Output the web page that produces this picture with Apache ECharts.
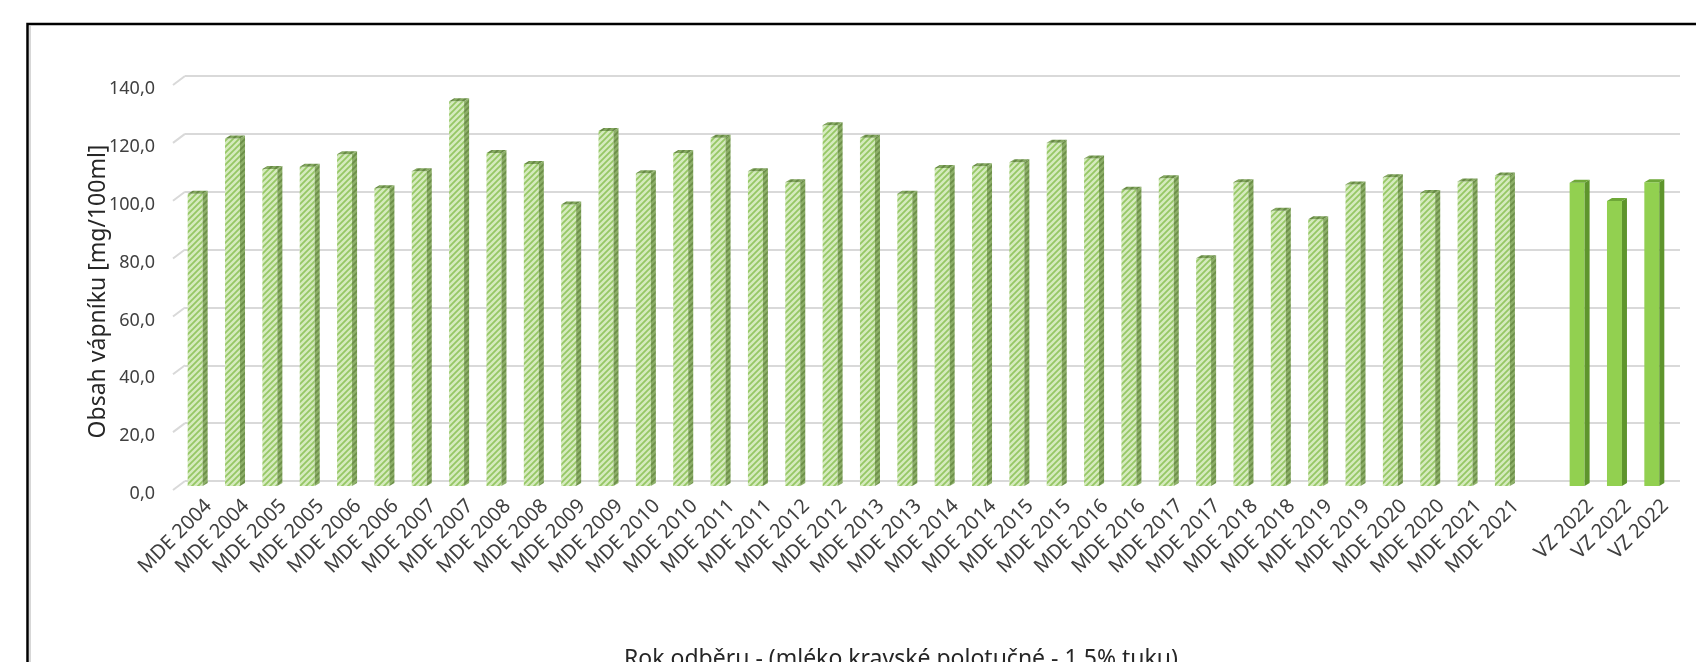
<!DOCTYPE html>
<html>
<head>
<meta charset="utf-8">
<title>Obsah vápníku</title>
<script src="https://cdn.jsdelivr.net/npm/echarts@6/dist/echarts.min.js"></script>
<style>
  html, body { margin: 0; padding: 0; background: #fff; }
  #chart { width: 1696px; height: 662px; }
</style>
</head>
<body>
<div id="chart"></div>
<script>
// kategorie osy x, prázdná položka dělá mezeru před VZ 2022
const categories = [
  'MDE 2004', 'MDE 2004', 'MDE 2005', 'MDE 2005', 'MDE 2006', 'MDE 2006',
  'MDE 2007', 'MDE 2007', 'MDE 2008', 'MDE 2008', 'MDE 2009', 'MDE 2009',
  'MDE 2010', 'MDE 2010', 'MDE 2011', 'MDE 2011', 'MDE 2012', 'MDE 2012',
  'MDE 2013', 'MDE 2013', 'MDE 2014', 'MDE 2014', 'MDE 2015', 'MDE 2015',
  'MDE 2016', 'MDE 2016', 'MDE 2017', 'MDE 2017', 'MDE 2018', 'MDE 2018',
  'MDE 2019', 'MDE 2019', 'MDE 2020', 'MDE 2020', 'MDE 2021', 'MDE 2021',
  '', 'VZ 2022', 'VZ 2022', 'VZ 2022'
]

// obsah vápníku [mg/100ml]
const mdeValues = [
  100.3, 119.4, 108.9, 109.7, 114.0, 102.2,
  108.1, 132.3, 114.4, 110.6, 96.6, 122.0,
  107.4, 114.4, 119.7, 108.1, 104.3, 124.0,
  119.7, 100.3, 109.2, 109.8, 111.2, 118.0,
  112.5, 101.7, 105.7, 78.0, 104.3, 94.5,
  91.5, 103.5, 106.0, 100.6, 104.6, 106.6
]
const vzValues = [104.1, 97.8, 104.3]

// osa y
const yMin = 0
const yMax = 140
const yStep = 20
const yTicks = [0, 20, 40, 60, 80, 100, 120, 140]

// šrafovaná výplň jako u sloupců MDE
const makeHatch = (bg, fg) => {
  const c = document.createElement('canvas')
  c.width = c.height = 6
  const g = c.getContext('2d')
  g.fillStyle = bg
  g.fillRect(0, 0, 6, 6)
  g.strokeStyle = fg
  g.lineWidth = 1.8
  g.beginPath()
  g.moveTo(-1, 7); g.lineTo(7, -1)
  g.moveTo(-1, 1); g.lineTo(1, -1)
  g.moveTo(5, 7); g.lineTo(7, 5)
  g.stroke()
  return { image: c, repeat: 'repeat' }
}

const looks = [
  {
    front: makeHatch('#d5ebbe', '#96c765'),
    side: makeHatch('#8daf69', '#6c8f48'),
    top: makeHatch('#86a962', '#658843'),
  },
  { front: '#92d050', side: '#5e952c', top: '#6ea838' },
]

const barData = []
mdeValues.forEach((v, i) => barData.push([i, v, 0]))
vzValues.forEach((v, i) => barData.push([mdeValues.length + 1 + i, v, 1]))

const renderBar = (params, api) => {
  const top = api.coord([api.value(0), api.value(1)])
  const base = api.coord([api.value(0), 0])
  const band = api.size([1, 0])[0]
  const fw = band * 0.4
  const sw = band * 0.135
  const d = 3
  const left = top[0] - (fw + sw) / 2
  const yTop = top[1] + d
  const yBot = base[1] + 5
  const look = looks[api.value(2)]
  return {
    type: 'group',
    children: [
      { type: 'rect', shape: { x: left, y: yTop, width: fw, height: yBot - yTop }, style: { fill: look.front } },
      {
        type: 'polygon',
        shape: { points: [[left + fw, yTop], [left + fw + sw, top[1]], [left + fw + sw, yBot - d], [left + fw, yBot]] },
        style: { fill: look.side },
      },
      {
        type: 'polygon',
        shape: { points: [[left, yTop], [left + sw, top[1]], [left + fw + sw, top[1]], [left + fw, yTop]] },
        style: { fill: look.top },
      },
    ],
  }
}

// šikmé hrany mřížky u levé stěny
const renderStub = (params, api) => {
  const p = api.coord([0, api.value(1)])
  const x = params.coordSys.x
  return {
    type: 'line',
    shape: { x1: x, y1: p[1], x2: x - 12, y2: p[1] + 9 },
    style: { stroke: '#d9d9d9', lineWidth: 2 },
  }
}

const font = 'Noto Sans'
const chart = echarts.init(document.getElementById('chart'))
chart.setOption({
  backgroundColor: '#fff',
  animation: false,
  textStyle: { fontFamily: font },
  graphic: [
    { type: 'rect', shape: { x: 27.5, y: 24, width: 1720, height: 700 }, style: { fill: 'none', stroke: '#000', lineWidth: 2.5 } },
    { type: 'line', shape: { x1: 30, y1: 26, x2: 30, y2: 662 }, style: { stroke: '#b0b0b0', lineWidth: 1 } },
  ],
  grid: [
    // sloupce
    { left: 179, right: 23, top: 76, bottom: 181, outerBoundsMode: 'none' },
    // zadní stěna s mřížkou
    { left: 185, right: 16, top: 76, bottom: 181, outerBoundsMode: 'none' },
    // přední rovina s popisky os
    { left: 190, right: 12, top: 89, bottom: 168, outerBoundsMode: 'none' },
  ],
  xAxis: [
    {
      type: 'category',
      data: categories,
      gridIndex: 0,
      axisLine: { show: false },
      axisTick: { show: false },
      axisLabel: { show: false },
      name: 'Rok odběru - (mléko kravské polotučné - 1,5% tuku)',
      nameLocation: 'middle',
      nameGap: 167,
      nameMoveOverlap: false,
      nameTextStyle: { fontSize: 23, color: '#262626', fontFamily: font, padding: [0, 50, 0, 0] },
    },
    {
      type: 'category',
      data: categories,
      gridIndex: 1,
      axisLine: { show: false },
      axisTick: { show: false },
      axisLabel: { show: false },
    },
    {
      type: 'category',
      data: categories,
      gridIndex: 2,
      axisLine: { show: false },
      axisTick: { show: false },
      axisLabel: { interval: 0, rotate: 45, margin: 9, fontSize: 20, color: '#404040', fontFamily: font },
    },
  ],
  yAxis: [
    {
      type: 'value',
      gridIndex: 0,
      min: yMin,
      max: yMax,
      interval: yStep,
      axisLine: { show: false },
      axisTick: { show: false },
      axisLabel: { show: false },
      splitLine: { show: false },
    },
    {
      type: 'value',
      gridIndex: 1,
      min: yMin,
      max: yMax,
      interval: yStep,
      axisLine: { show: false },
      axisTick: { show: false },
      axisLabel: { show: false },
      splitLine: { show: true, lineStyle: { color: '#d9d9d9', width: 2 } },
    },
    {
      type: 'value',
      gridIndex: 2,
      min: yMin,
      max: yMax,
      interval: yStep,
      splitLine: { show: false },
      axisLine: { show: false },
      axisTick: { show: false },
      axisLabel: {
        margin: 35,
        fontSize: 18,
        color: '#404040',
        fontFamily: font,
        formatter: (v) => v.toFixed(1).replace('.', ','),
      },
      name: 'Obsah vápníku [mg/100ml]',
      nameLocation: 'middle',
      nameGap: 80,
      nameMoveOverlap: false,
      nameTextStyle: { fontSize: 23, color: '#262626', fontFamily: font },
    },
  ],
  series: [
    {
      type: 'custom',
      xAxisIndex: 1,
      yAxisIndex: 1,
      renderItem: renderStub,
      encode: { x: 0, y: 1 },
      data: yTicks.map((t) => [0, t]),
      silent: true,
      z: 1,
    },
    {
      type: 'custom',
      xAxisIndex: 0,
      yAxisIndex: 0,
      renderItem: renderBar,
      encode: { x: 0, y: 1 },
      data: barData,
      z: 3,
    },
  ],
})
</script>
</body>
</html>
